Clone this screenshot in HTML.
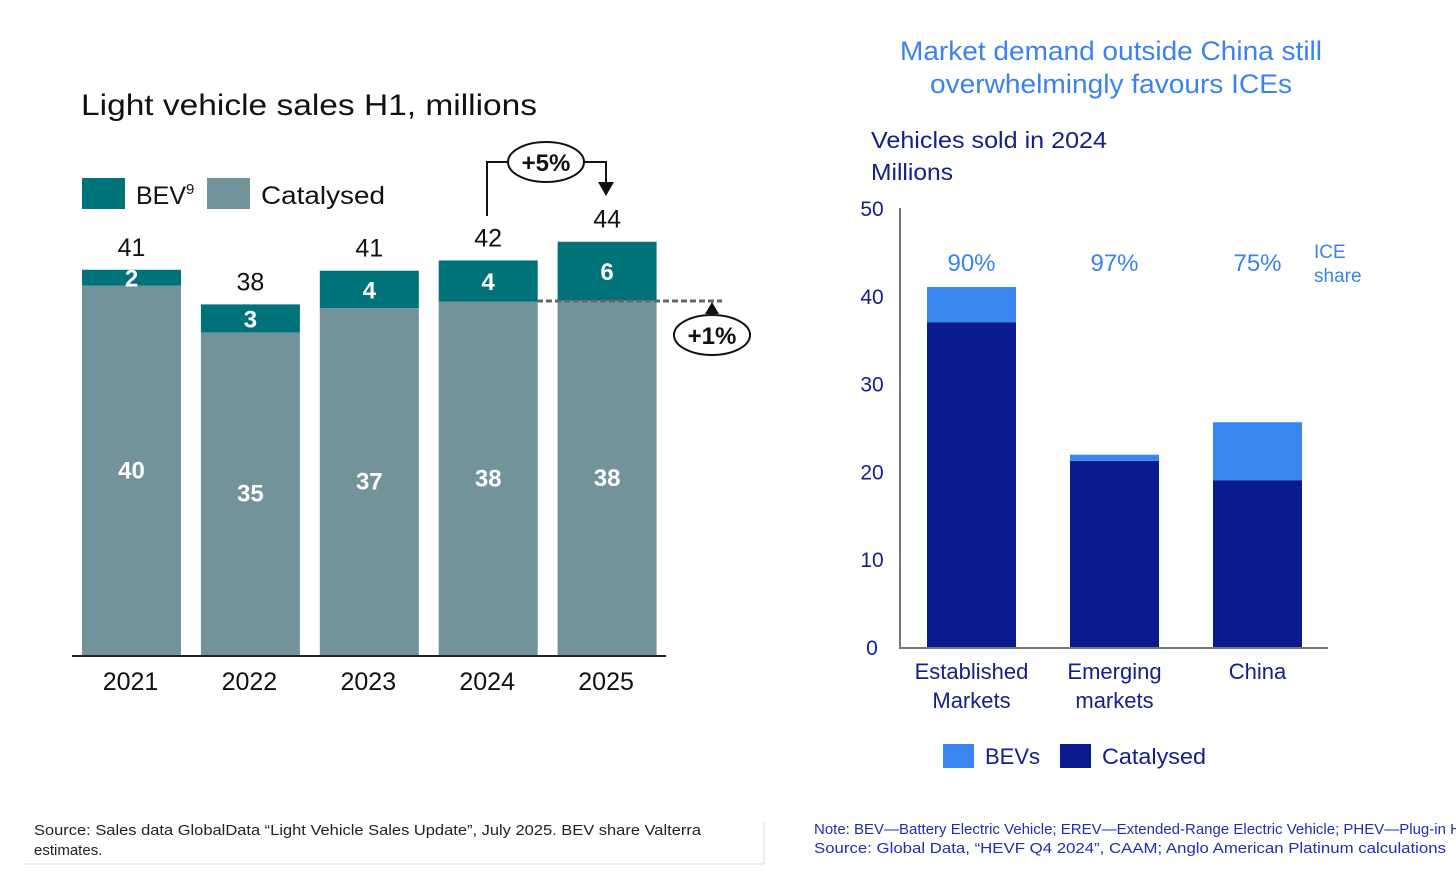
<!DOCTYPE html>
<html><head><meta charset="utf-8"><style>
body{margin:0;background:#fff;width:1456px;height:878px;overflow:hidden;font-family:"Liberation Sans",sans-serif}
svg{position:absolute;left:0;top:0}
</style></head><body>
<svg id="s" width="1456" height="878" xmlns="http://www.w3.org/2000/svg" font-family="Liberation Sans, sans-serif">
<text x="81" y="115" font-size="30" fill="#111" textLength="456" lengthAdjust="spacingAndGlyphs">Light vehicle sales H1, millions</text>
<rect x="82" y="178" width="43" height="31" fill="#00737a"/>
<text x="136" y="204" font-size="25" fill="#111">BEV<tspan font-size="15" dy="-10">9</tspan></text>
<rect x="207" y="178" width="43" height="31" fill="#72939a"/>
<text x="261" y="204" font-size="25" fill="#111" textLength="124" lengthAdjust="spacingAndGlyphs">Catalysed</text>
<g id="left"></g>
<line x1="72" y1="656" x2="666" y2="656" stroke="#222" stroke-width="2"/>
<path d="M487 216 V162 H510 M584 162 H606 V184" fill="none" stroke="#111" stroke-width="2"/>
<polygon points="598,182 614,182 606,196" fill="#111"/>
<ellipse cx="546" cy="162" rx="38" ry="20" fill="#fff" stroke="#111" stroke-width="2"/>
<text x="546" y="171" font-size="24" font-weight="bold" text-anchor="middle" fill="#111">+5%</text>
<line x1="537" y1="301" x2="722" y2="301" stroke="#666" stroke-width="3" stroke-dasharray="6,3"/>
<polygon points="705,314 719,314 712,302" fill="#111"/>
<ellipse cx="712" cy="335" rx="38" ry="20" fill="#fff" stroke="#111" stroke-width="2"/>
<text x="712" y="344" font-size="24" font-weight="bold" text-anchor="middle" fill="#111">+1%</text>
<text x="34" y="835" font-size="15" fill="#222" textLength="667" lengthAdjust="spacingAndGlyphs">Source: Sales data GlobalData “Light Vehicle Sales Update”, July 2025. BEV share Valterra</text>
<text x="34" y="855" font-size="15" fill="#222">estimates.</text>
<line x1="24" y1="864" x2="764" y2="864" stroke="#eee" stroke-width="2"/>
<line x1="764" y1="822" x2="764" y2="864" stroke="#ddd" stroke-width="1"/>

<text x="900" y="60" font-size="27" fill="#3b82f0" textLength="422" lengthAdjust="spacingAndGlyphs">Market demand outside China still</text>
<text x="930" y="93" font-size="27" fill="#3b82f0" textLength="362" lengthAdjust="spacingAndGlyphs">overwhelmingly favours ICEs</text>
<text x="871" y="148" font-size="23" fill="#14208a" textLength="236" lengthAdjust="spacingAndGlyphs">Vehicles sold in 2024</text>
<text x="871" y="180" font-size="23" fill="#14208a" textLength="82" lengthAdjust="spacingAndGlyphs">Millions</text>
<g id="right"></g>
<text x="1314" y="258" font-size="19" fill="#3b82f0">ICE</text>
<text x="1314" y="282" font-size="19" fill="#3b82f0">share</text>
<rect x="943" y="744" width="31" height="24" fill="#3a86f0"/>
<text x="985" y="764" font-size="22" fill="#14208a">BEVs</text>
<rect x="1060" y="744" width="31" height="24" fill="#0a1a8f"/>
<text x="1102" y="764" font-size="22" fill="#14208a" textLength="104" lengthAdjust="spacingAndGlyphs">Catalysed</text>
<text x="814" y="834" font-size="15" fill="#1f2fb0">Note: BEV—Battery Electric Vehicle; EREV—Extended-Range Electric Vehicle; PHEV—Plug-in Hybrid</text>
<text x="814" y="853" font-size="15" fill="#1f2fb0" textLength="632" lengthAdjust="spacingAndGlyphs">Source: Global Data, “HEVF Q4 2024”, CAAM; Anglo American Platinum calculations</text>
</svg>
<script>
const years=["2021","2022","2023","2024","2025"];
const catalysed=[39.5,34.5,37.1,37.8,37.9];
const bev=[1.7,3.0,4.0,4.4,6.3];
const catLabels=["40","35","37","38","38"];
const bevLabels=["2","3","4","4","6"];
const totalLabels=["41","38","41","42","44"];

const markets=["Established|Markets","Emerging|markets","China"];
const rCat=[37.0,21.2,19.0];
const rBev=[4.0,0.7,6.6];
const shares=["90%","97%","75%"];
const rTicks=[0,10,20,30,40,50];

const NS="http://www.w3.org/2000/svg";
function mk(p,t,a,txt){const e=document.createElementNS(NS,t);for(const k in a)e.setAttribute(k,a[k]);if(txt!=null)e.textContent=txt;p.appendChild(e);return e;}
const L=document.getElementById('left');
const ly=v=>655-v*9.35, lx=i=>82+i*118.9;
years.forEach((y,i)=>{
 const x=lx(i),w=99,c=catalysed[i],b=bev[i];
 let r=mk(L,'rect',{x:x,y:ly(c),width:w,height:655-ly(c),fill:'#72939a'});
 
 
 r=mk(L,'rect',{x:x,y:ly(c+b),width:w,height:ly(c)-ly(c+b),fill:'#00737a'});
 
 
 let t=mk(L,'text',{x:x+w/2,y:(ly(c)+655)/2+8,'font-size':24,fill:'#fff','text-anchor':'middle','font-weight':'bold'},catLabels[i]);
 
 
 t=mk(L,'text',{x:x+w/2,y:(ly(c)+ly(c+b))/2+9,'font-size':24,fill:'#fff','text-anchor':'middle','font-weight':'bold'},bevLabels[i]);
 
 
 t=mk(L,'text',{x:x+w/2,y:ly(c+b)-14,'font-size':25,fill:'#111','text-anchor':'middle'},totalLabels[i]);
 
 
 t=mk(L,'text',{x:x+w/2-1,y:690,'font-size':25,fill:'#111','text-anchor':'middle'},y);
 
 
});
const R=document.getElementById('right');
const ry=v=>647-v*8.78, rx=i=>927+i*143;
rTicks.forEach(v=>{
 const t=mk(R,'text',{x:872,y:ry(v)+8,'font-size':21,fill:'#14208a','text-anchor':'middle'},String(v));
 
 
});
let ax=mk(R,'line',{x1:900,y1:ry(50),x2:900,y2:648,stroke:'#777','stroke-width':2});


ax=mk(R,'line',{x1:899,y1:648,x2:1328,y2:648,stroke:'#777','stroke-width':2});


markets.forEach((m,i)=>{
 const x=rx(i),w=89,c=rCat[i],b=rBev[i];
 let r=mk(R,'rect',{x:x,y:ry(c),width:w,height:647-ry(c),fill:'#0a1a8f'});
 
 
 r=mk(R,'rect',{x:x,y:ry(c+b),width:w,height:ry(c)-ry(c+b),fill:'#3a86f0'});
 
 
 let t=mk(R,'text',{x:x+w/2,y:271,'font-size':24,fill:'#3b82f0','text-anchor':'middle'},shares[i]);
 
 
 m.split('|').forEach((ln,j)=>{
  const q=mk(R,'text',{x:x+w/2,y:679+j*29,'font-size':22,fill:'#14208a','text-anchor':'middle'},ln);
  
  
 });
});
</script>
</body></html>
